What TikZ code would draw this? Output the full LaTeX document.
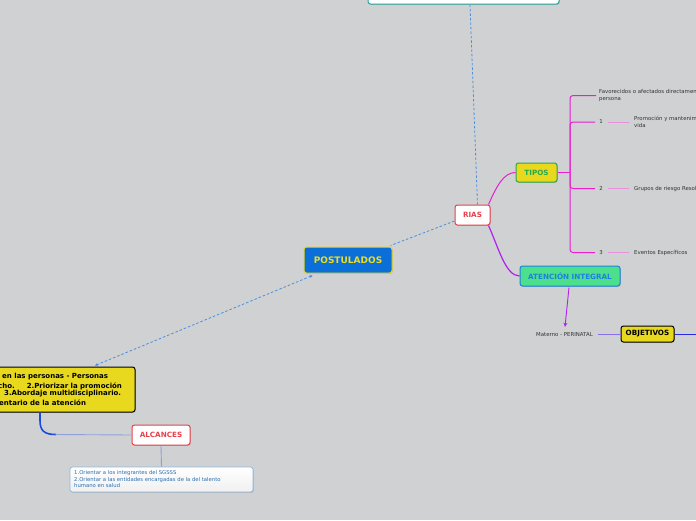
\documentclass[tikz,border=0pt]{standalone}
\usepackage{fontspec}
\setmainfont{DejaVu Sans}
\usetikzlibrary{calc,shadows,arrows.meta}
\definecolor{bg}{HTML}{D0D1D3}
\definecolor{dashblue}{HTML}{4A8FE0}
\definecolor{teal}{HTML}{26A69A}
\definecolor{riared}{HTML}{E8404A}
\definecolor{postblue}{HTML}{0A6FD8}
\definecolor{ylw}{HTML}{E8D81E}
\definecolor{ylwtxt}{HTML}{F0DC20}
\definecolor{tipgreen}{HTML}{2BA84A}
\definecolor{magent}{HTML}{E81ECF}
\definecolor{pinkl}{HTML}{E890D8}
\definecolor{violet}{HTML}{B020F0}
\definecolor{atgreen}{HTML}{4CE08C}
\definecolor{atblue}{HTML}{1E7FE0}
\definecolor{lav}{HTML}{8A70E8}
\definecolor{deepblue}{HTML}{2A2AE0}
\definecolor{alcblue}{HTML}{1A4CE0}
\definecolor{alcl}{HTML}{8FA0D8}
\definecolor{notetxt}{HTML}{2A6FB0}
\definecolor{noteborder}{HTML}{8FB8E0}
\definecolor{smalltxt}{HTML}{333333}
\tikzset{
  box/.style={draw, rounded corners=2.5pt, line width=1pt, inner sep=0pt,
    drop shadow={shadow xshift=0.8pt, shadow yshift=-0.8pt, opacity=0.35}},
  dashline/.style={draw=dashblue, line width=0.8pt, dash pattern=on 2.5pt off 2pt},
  small/.style={font=\fontsize{5.4}{6.4}\selectfont, text=smalltxt, inner sep=0pt},
  boldlbl/.style={font=\fontsize{7.2}{8}\selectfont\bfseries},
  yl/.style={font=\fontsize{7}{8}\selectfont\bfseries, anchor=west, inner sep=0pt}
}
\begin{document}
\begin{tikzpicture}[x=1pt,y=-1pt]
\fill[bg] (0,0) rectangle (696,520);
\useasboundingbox (0,0) rectangle (696,520);
\clip (0,0) rectangle (696,520);

% nodes
\node[box, draw=teal, fill=white, minimum width=191pt, minimum height=24pt] (top) at (463.5,-8) {};
\node[box, draw=riared, fill=white, minimum width=35pt, minimum height=20pt, text=riared, boldlbl] (rias) at (472.5,215) {RIAS};
\node[box, draw=ylw, fill=postblue, minimum width=88pt, minimum height=26pt, text=ylwtxt, font=\fontsize{9}{10}\selectfont\bfseries] (post) at (348,260) {POSTULADOS};
\node[box, draw=black, fill=ylw, minimum width=175pt, minimum height=45pt] (ybox) at (47.5,389.5) {};
\node[yl] (y1) at (2,377) {en las personas - Personas};
\node[yl] (y2) at (-2,386) {cho.\hspace{12pt}2.Priorizar la promoción};
\node[yl] (y3) at (4,394) {3.Abordaje multidisciplinario.};
\node[yl] (y4) at (-1,403) {entario de la atención};
\node[box, draw=riared, fill=white, minimum width=58pt, minimum height=20pt, text=riared, boldlbl] (alc) at (161,435) {ALCANCES};
\node[box, draw=noteborder, line width=0.7pt, top color=white, bottom color=gray!12, minimum width=183pt, minimum height=25pt, drop shadow={opacity=0}] (note) at (161.5,479.5) {};
\node[anchor=north west, inner sep=0pt, align=left, text=notetxt, font=\fontsize{5.3}{6.5}\selectfont] (notet) at (74,470.5) {1.Orientar a los integrantes del SGSSS\\2.Orientar a las entidades encargadas de la del talento\\humano en salud};
\node[box, draw=tipgreen, fill=ylw, minimum width=41pt, minimum height=19pt, text=tipgreen, boldlbl] (tipos) at (536.5,172.5) {TIPOS};
\node[box, draw=atblue, fill=atgreen, minimum width=100pt, minimum height=20pt, text=atblue, boldlbl] (aten) at (570,276) {ATENCIÓN INTEGRAL};
\node[small] (mat) at (564.5,335) {Materno - PERINATAL};
\node[box, draw=black, fill=ylw, minimum width=53pt, minimum height=16pt, boldlbl] (obj) at (647.5,334) {OBJETIVOS};
\coordinate (objend) at (696,334);

% tipos children
\node[small, anchor=west, align=left] (fav) at (599,95.5) {Favorecidos o afectados directamente\\persona};
\node[small] (n1) at (601,122) {1};
\node[small, anchor=west, align=left] (t1) at (634,122) {Promoción y mantenimiento de la salud\\vida};
\node[small] (n2) at (601,188.5) {2};
\node[small, anchor=west] (t2) at (634,188.5) {Grupos de riesgo Resolución};
\node[small] (n3) at (601,252.5) {3};
\node[small, anchor=west] (t3) at (634,252.5) {Eventos Específicos};
\coordinate (br) at (570,172.5);

% connectors
\draw[dashline] ($(top.south)+(6.5,0)$) -- ($(rias.north)+(5,0)$);
\draw[dashline] ($(rias.west)+(0,6)$) -- ($(post.north east)+(-2,-1)$);
\draw[dashline, {Stealth[length=3pt,width=3pt]}-{Stealth[length=3pt,width=3pt]}] ($(post.south west)+(9,2)$) -- ($(ybox.north)+(47.5,-1)$);
\draw[alcblue, line width=1.6pt] ($(ybox.south)+(-7.5,0)$) -- ++(0,8) .. controls ++(0,10) and ++(-12,0) .. ++(16,14);
\draw[alcl, line width=0.9pt] ($(ybox.south)+(8,22)$) -- (alc.west);
\draw[alcl, line width=0.9pt] (alc.south) -- (note.north);
\draw[magent, line width=1pt] ($(rias.north east)+(-2,0)$) .. controls ++(8,-18) and ++(-12,0) .. (tipos.west);
\draw[violet, line width=1.2pt] ($(rias.south east)+(-2,0)$) .. controls ++(10,22) and ++(-14,0) .. (aten.west);
\draw[violet, line width=0.9pt, -{Stealth[length=4pt,width=4pt]}] ($(aten.south)+(-1,1)$) -- ($(mat.north)+(0.5,-6)$);
\draw[lav, line width=0.8pt] ($(mat.east)+(5,-1)$) -- (obj.west);
\draw[deepblue, line width=1pt] (obj.east) -- (objend);
\draw[magent, line width=1pt] (tipos.east) -- (br);
\draw[magent, line width=1pt, rounded corners=3pt] (br) |- ($(fav.west)+(-3,0)$);
\draw[magent, line width=1pt, rounded corners=3pt] (br) |- ($(n1.west)+(-4,0)$);
\draw[magent, line width=1pt, rounded corners=3pt] (br) |- ($(n2.west)+(-4,0)$);
\draw[magent, line width=1pt, rounded corners=3pt] (br) |- ($(n3.west)+(-4,0)$);
\draw[pinkl, line width=1pt] ($(n1.east)+(5,0)$) -- ($(t1.west)+(-5,0)$);
\draw[pinkl, line width=1pt] ($(n2.east)+(5,0)$) -- ($(t2.west)+(-5,0)$);
\draw[pinkl, line width=1pt] ($(n3.east)+(5,0)$) -- ($(t3.west)+(-5,0)$);
\end{tikzpicture}
\end{document}
